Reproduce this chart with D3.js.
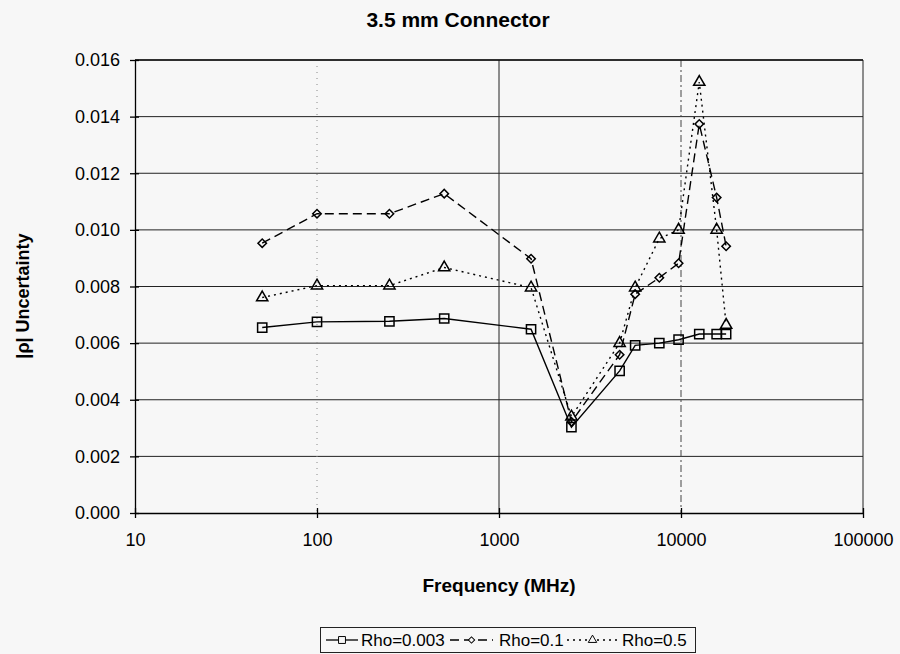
<!DOCTYPE html>
<html>
<head>
<meta charset="utf-8">
<script src="https://cdn.jsdelivr.net/npm/d3@7"></script>
<style>
    body { margin: 0; background: #f7f7f7; }
    svg { display: block; font-family: "Liberation Sans", Arial, sans-serif; }
    .gridLines { stroke: #222; stroke-width: 1; }
    .axis path, .axis line { stroke: #000; stroke-width: 1.3; }
    .axis text { font-size: 18px; fill: #000; }
</style>
</head>
<body>
<script>
(function(){

    //data
    var freqs = [50, 100, 250, 500, 1500, 2500, 4600, 5600, 7600, 9700, 12600, 15700, 17700];
    var rho003 = [0.00655, 0.00675, 0.00677, 0.00687, 0.00649, 0.00303, 0.00502, 0.00592, 0.00600, 0.00612, 0.00632, 0.00632, 0.00632];
    var rho01 = [0.00953, 0.01057, 0.01057, 0.01128, 0.00898, 0.00322, 0.00559, 0.00773, 0.00831, 0.00882, 0.01374, 0.01114, 0.00942];
    var rho05 = [0.00761, 0.00803, 0.00803, 0.00867, 0.00796, 0.00340, 0.00600, 0.00796, 0.00969, 0.01000, 0.01522, 0.01000, 0.00664];
    var seriesNames = ["Rho=0.003", "Rho=0.1", "Rho=0.5"];
    var xTicks = [10, 100, 1000, 10000, 100000];
    var yTicks = [0, 0.002, 0.004, 0.006, 0.008, 0.010, 0.012, 0.014, 0.016];

    //frame dimensions
    var width = 900,
        height = 654,
        left = 135,
        right = 863,
        top = 60,
        bottom = 513;

    var svg = d3.select("body")
        .append("svg")
        .attr("width", width)
        .attr("height", height);

    //scales
    var x = d3.scaleLog()
        .domain([10, 100000])
        .range([left, right]);

    var y = d3.scaleLinear()
        .domain([0, 0.016])
        .range([bottom, top]);

    //horizontal gridlines
    svg.selectAll(".gridLines")
        .data(yTicks.slice(1))
        .enter()
        .append("line")
        .attr("class", "gridLines")
        .attr("x1", left)
        .attr("x2", right)
        .attr("y1", function(d){ return y(d); })
        .attr("y2", function(d){ return y(d); });

    //vertical gridlines, each one looks a bit different in the scan
    var vStyles = [
        {v: 100, dash: "1,5", color: "#888"},
        {v: 1000, dash: null, color: "#222"},
        {v: 10000, dash: "7,3,2,3", color: "#444"}
    ];
    svg.selectAll(".vLines")
        .data(vStyles)
        .enter()
        .append("line")
        .attr("class", "vLines")
        .attr("x1", function(d){ return x(d.v); })
        .attr("x2", function(d){ return x(d.v); })
        .attr("y1", top)
        .attr("y2", bottom)
        .attr("stroke", function(d){ return d.color; })
        .attr("stroke-width", 1)
        .attr("stroke-dasharray", function(d){ return d.dash; });

    //plot area border, top and right
    svg.append("line")
        .attr("x1", right).attr("x2", right)
        .attr("y1", top).attr("y2", bottom)
        .attr("stroke", "#222");
    svg.append("line")
        .attr("x1", left).attr("x2", right)
        .attr("y1", top).attr("y2", top)
        .attr("stroke", "#111")
        .attr("stroke-width", 1.5);

    //axes with crossing tick marks
    var yAxis = d3.axisLeft(y)
        .tickValues(yTicks)
        .tickFormat(d3.format(".3f"))
        .tickSizeInner(5)
        .tickSizeOuter(0)
        .tickPadding(10);
    var yg = svg.append("g")
        .attr("class", "axis")
        .attr("transform", "translate(" + left + ",0)")
        .call(yAxis);
    yg.selectAll(".tick line").attr("x1", 4);

    var xAxis = d3.axisBottom(x)
        .tickValues(xTicks)
        .tickFormat(d3.format("d"))
        .tickSizeInner(5)
        .tickSizeOuter(0)
        .tickPadding(15);
    var xg = svg.append("g")
        .attr("class", "axis")
        .attr("transform", "translate(0," + bottom + ")")
        .call(xAxis);
    xg.selectAll(".tick line").attr("y1", -5);

    //series lines
    var series = [
        {name: seriesNames[0], values: rho003, dash: null, marker: "square"},
        {name: seriesNames[1], values: rho01, dash: "9,5", marker: "diamond"},
        {name: seriesNames[2], values: rho05, dash: "2,4", marker: "triangle"}
    ];

    var line = d3.line()
        .x(function(d){ return x(d[0]); })
        .y(function(d){ return y(d[1]); });

    //diamond is a square turned 45 degrees, like the excel marker
    var symbols = {
        square: {path: d3.symbol().type(d3.symbolSquare).size(85), rot: 0},
        diamond: {path: d3.symbol().type(d3.symbolSquare).size(36), rot: 45},
        triangle: {path: d3.symbol().type(d3.symbolTriangle).size(55), rot: 0}
    };

    series.forEach(function(s){
        var pts = freqs.map(function(f, i){ return [f, s.values[i]]; });
        var sym = symbols[s.marker];
        svg.append("path")
            .datum(pts)
            .attr("d", line)
            .attr("fill", "none")
            .attr("stroke", "#000")
            .attr("stroke-width", 1.4)
            .attr("stroke-dasharray", s.dash);
        svg.selectAll(".m" + s.marker)
            .data(pts)
            .enter()
            .append("path")
            .attr("class", "m" + s.marker)
            .attr("d", sym.path)
            .attr("transform", function(d){
                return "translate(" + x(d[0]) + "," + y(d[1]) + ") rotate(" + sym.rot + ")";
            })
            .attr("fill", "none")
            .attr("stroke", "#000")
            .attr("stroke-width", 1.5);
    });

    //titles
    svg.append("text")
        .attr("x", 458)
        .attr("y", 27)
        .attr("text-anchor", "middle")
        .style("font-weight", "bold")
        .style("font-size", "21px")
        .text("3.5 mm Connector");

    svg.append("text")
        .attr("x", 499)
        .attr("y", 592)
        .attr("text-anchor", "middle")
        .style("font-weight", "bold")
        .style("font-size", "19px")
        .text("Frequency (MHz)");

    svg.append("text")
        .attr("transform", "translate(29,296) rotate(-90)")
        .attr("text-anchor", "middle")
        .style("font-weight", "bold")
        .style("font-size", "18px")
        .text("|ρ| Uncertainty");

    //legend
    var legend = svg.append("g").attr("class", "legend");
    legend.append("rect")
        .attr("x", 320.5)
        .attr("y", 627.5)
        .attr("width", 375)
        .attr("height", 25)
        .attr("fill", "none")
        .attr("stroke", "#222");

    var legendPos = [
        {x0: 326, x1: 358, tx: 361},
        {x0: 450, x1: 493, tx: 499},
        {x0: 567, x1: 618, tx: 622}
    ];
    series.forEach(function(s, i){
        var p = legendPos[i];
        var sym = symbols[s.marker];
        legend.append("line")
            .attr("x1", p.x0).attr("x2", p.x1)
            .attr("y1", 640).attr("y2", 640)
            .attr("stroke", "#000")
            .attr("stroke-width", 1.3)
            .attr("stroke-dasharray", s.dash);
        legend.append("path")
            .attr("d", sym.path)
            .attr("transform", "translate(" + (p.x0 + p.x1) / 2 + ",640) scale(0.75) rotate(" + sym.rot + ")")
            .attr("fill", "#f7f7f7")
            .attr("stroke", "#000")
            .attr("stroke-width", 1.3);
        legend.append("text")
            .attr("x", p.tx)
            .attr("y", 646)
            .style("font-size", "17px")
            .text(s.name);
    });

})();
</script>
</body>
</html>
